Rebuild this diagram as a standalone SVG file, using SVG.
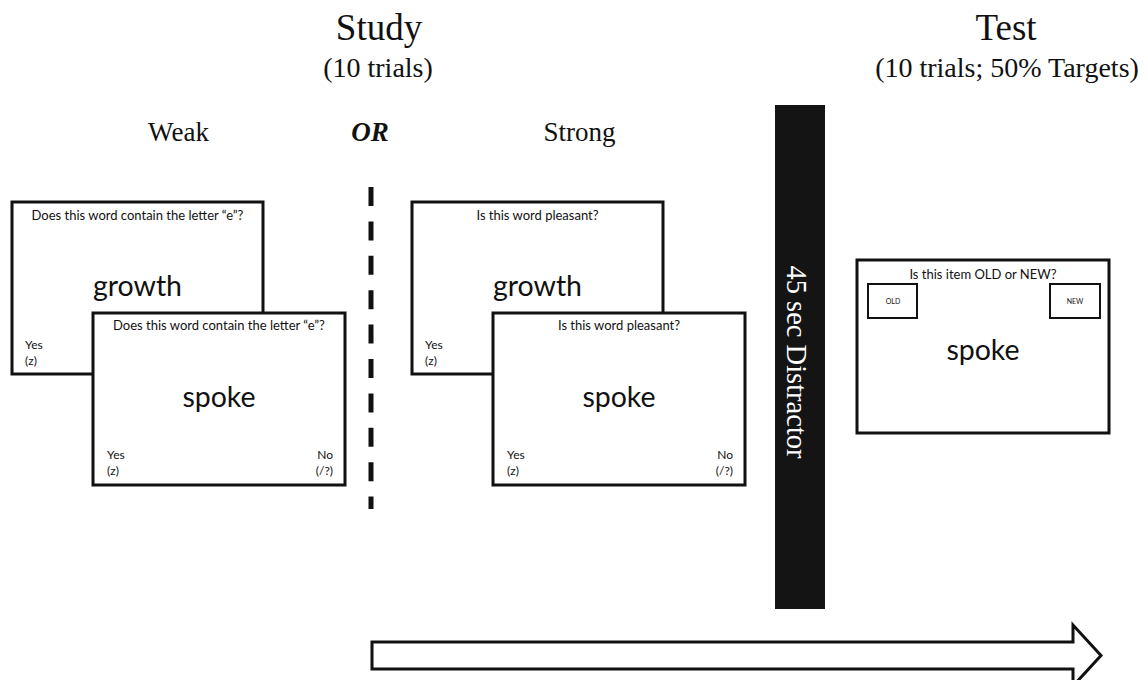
<svg xmlns="http://www.w3.org/2000/svg" width="1148" height="680" viewBox="0 0 1148 680">
<style>
.card{fill:#fff;stroke:#111;stroke-width:3}
.small{fill:#fff;stroke:#111;stroke-width:2}
.serif{font-family:"Liberation Serif","Times New Roman",serif;fill:#111}
.sans{font-family:Lato,"Liberation Sans",sans-serif;fill:#111}
.q{font-size:13px;text-anchor:middle}
.word{font-size:28.5px;text-anchor:middle}
.key{font-size:12px}
.end{text-anchor:end}
.mid{text-anchor:middle}
</style>
<rect width="1148" height="680" fill="#fff"/>
<g id="titles">
<text class="serif mid" x="379" y="40" font-size="37">Study</text>
<text class="serif mid" x="378" y="77" font-size="28">(10 trials)</text>
<text class="serif mid" x="1006" y="40" font-size="37">Test</text>
<text class="serif mid" x="1007" y="77" font-size="28">(10 trials; 50% Targets)</text>
<text class="serif mid" x="178.5" y="141" font-size="27">Weak</text>
<text class="serif mid" x="370" y="141" font-size="27" font-weight="bold" font-style="italic">OR</text>
<text class="serif mid" x="579.5" y="141" font-size="27">Strong</text>
</g>
<g id="connectors">
<line x1="371" y1="187" x2="371" y2="509" stroke="#111" stroke-width="5" stroke-dasharray="19 15.4"/>
<path d="M372,642 L1073,642 L1073,625 L1101,655.5 L1073,686 L1073,669 L372,669 Z" fill="#fff" stroke="#111" stroke-width="3" stroke-linejoin="miter"/>
</g>
<g id="weak-back">
<rect class="card" x="12" y="202" width="251" height="172"/>
<text class="sans q" x="137.5" y="220">Does this word contain the letter “e”?</text>
<text class="sans word" x="137.5" y="296">growth</text>
<text class="sans key" x="25" y="349">Yes</text>
<text class="sans key" x="25" y="365">(z)</text>
</g>
<g id="weak-front">
<rect class="card" x="93" y="313" width="252" height="172"/>
<text class="sans q" x="219" y="330">Does this word contain the letter “e”?</text>
<text class="sans word" x="219" y="407">spoke</text>
<text class="sans key" x="107" y="459">Yes</text>
<text class="sans key" x="107" y="475">(z)</text>
<text class="sans key end" x="333" y="459">No</text>
<text class="sans key end" x="333" y="475">(/?)</text>
</g>
<g id="strong-back">
<rect class="card" x="412" y="202" width="251" height="172"/>
<text class="sans q" x="537.5" y="220">Is this word pleasant?</text>
<text class="sans word" x="537.5" y="296">growth</text>
<text class="sans key" x="425" y="349">Yes</text>
<text class="sans key" x="425" y="365">(z)</text>
</g>
<g id="strong-front">
<rect class="card" x="493" y="313" width="252" height="172"/>
<text class="sans q" x="619" y="330">Is this word pleasant?</text>
<text class="sans word" x="619" y="407">spoke</text>
<text class="sans key" x="507" y="459">Yes</text>
<text class="sans key" x="507" y="475">(z)</text>
<text class="sans key end" x="733" y="459">No</text>
<text class="sans key end" x="733" y="475">(/?)</text>
</g>
<g id="distractor">
<rect x="775" y="105" width="50" height="504" fill="#141414"/>
<text class="serif mid" transform="translate(787,362) rotate(90)" font-size="28.5" style="fill:#fff">45 sec Distractor</text>
</g>
<g id="test-card">
<rect class="card" x="857" y="260" width="252" height="173"/>
<text class="sans q" x="983" y="279">Is this item OLD or NEW?</text>
<rect class="small" x="868" y="284" width="49" height="34"/>
<text class="sans mid" x="893" y="304" font-size="7">OLD</text>
<rect class="small" x="1050" y="284" width="50" height="34"/>
<text class="sans mid" x="1075" y="304" font-size="7">NEW</text>
<text class="sans word" x="983" y="360">spoke</text>
</g>
</svg>
